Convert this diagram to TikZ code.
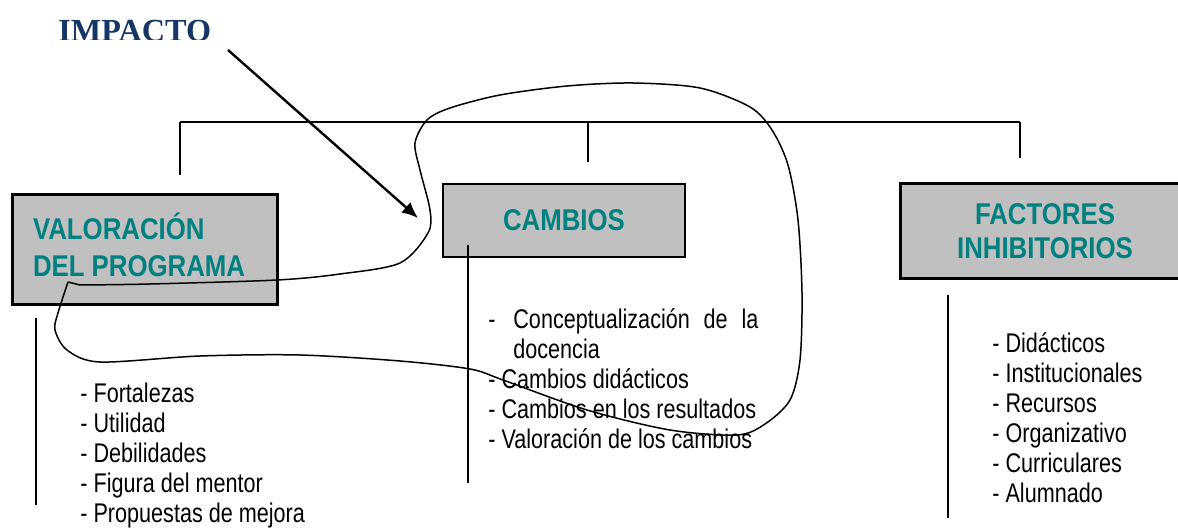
\documentclass[tikz,border=0pt]{standalone}
\usepackage{fontspec}
\setmainfont{Liberation Sans}
\newfontfamily\listfont{Liberation Sans}[FakeStretch=0.8]
\newfontfamily\headfont{Liberation Sans}[FakeStretch=0.86]
\newfontfamily\titlefont{Liberation Serif}
\usetikzlibrary{arrows.meta,positioning}
\definecolor{tealhead}{RGB}{0,128,128}
\definecolor{navytitle}{RGB}{22,54,104}
\definecolor{boxgray}{RGB}{192,192,192}
\tikzset{headbox/.style= {draw, fill=boxgray, line width=1.5pt, inner sep=0pt, text=tealhead, font=\headfont\bfseries\fontsize{15}{18.5}\selectfont}}
\tikzset{itemlist/.style= {inner sep=0pt, align=left, anchor=north west, font=\listfont\fontsize{13.5}{15}\selectfont}}
\tikzset{tree/.style= {line width=0.75pt}}

\begin{document}
\begin{tikzpicture}[x=0.5pt,y=-0.5pt]
        \useasboundingbox(0,0)rectangle(1178,529);

        % title, cut off at the bottom as in the scan
        \begin{scope}
        \clip(0,0)rectangle(600,40);
        \node[anchor=base west,inner sep=0pt,text=navytitle,font=\titlefont\bfseries\fontsize{16.1}{18}\selectfont](impacto)at(58,42){IMPACTO};
        \end{scope}

        % the three boxes
        \node[headbox,minimum width=132.5pt,minimum height=55pt](valoracion)at(144.5,250){\makebox[111.5pt][l]{\raisebox{4pt}{\begin{tabular}{@{}l@{}}VALORACIÓN\\DEL PROGRAMA\end{tabular}}}};
        \node[headbox,line width=1pt,minimum width=121pt,minimum height=36.5pt](cambios)at(564,220.5){CAMBIOS};
        \node[headbox,minimum width=145pt,minimum height=47.5pt,align=center,font=\headfont\bfseries\fontsize{15}{17}\selectfont](factores)at(1045,231.5){FACTORES\\INHIBITORIOS};

        % tree above the boxes
        \coordinate(treeL)at(180,122);
        \coordinate(treeM)at(588,122);
        \coordinate(treeR)at(1020,122);
        \coordinate(tickL)at(180,175);
        \coordinate(tickM)at(588,162);
        \coordinate(tickR)at(1020,158);
        \draw[tree](treeL)--(treeR);
        \draw[tree](treeL)--(tickL);
        \draw[tree](treeM)--(tickM);
        \draw[tree](treeR)--(tickR);

        % arrow from the title
        \coordinate(arrowstart)at(228,50);
        \coordinate(arrowtip)at(418,218);
        \draw[line width=1.2pt,-{Latex[length=8pt,width=7pt]}](arrowstart)--(arrowtip);

        % lines beside the lists
        \coordinate(sideLa)at(36,318);
        \coordinate(sideLb)at(36,505);
        \coordinate(sideMa)at(468,245);
        \coordinate(sideMb)at(468,483);
        \coordinate(sideRa)at(948,295);
        \coordinate(sideRb)at(948,518);
        \draw[tree](sideLa)--(sideLb);
        \draw[tree](sideMa)--(sideMb);
        \draw[tree](sideRa)--(sideRb);

        % lists
        \node[itemlist](valoracionlist)at(80,381){\strut- Fortalezas\\- Utilidad\\- Debilidades\\- Figura del mentor\\- Propuestas de mejora};
        \node[itemlist](cambioslist)at(488,307){\strut\makebox[12.5pt][l]{-}\makebox[122.5pt][s]{Conceptualización de la}\\\hspace*{12.5pt}docencia\\- Cambios didácticos\\- Cambios en los resultados\\- Valoración de los cambios};
        \node[itemlist](factoreslist)at(992,331){\strut- Didácticos\\- Institucionales\\- Recursos\\- Organizativo\\- Curriculares\\- Alumnado};

        % hand drawn loop
        \draw[tree]plot[smooth]coordinates{(68,282)(58,313)(55,330)(67,350)(100,362)(200,356)(300,355)(400,361)(470,369)(503,380)(587,410)(670,430)(737,435)(765,424)(790,400)(800,360)(802,293)(798,220)(788,165)(772,130)(750,107)(700,88)(633,83)(567,86)(500,95)(450,108)(427,120)(415,143)(420,170)(430,210)(428,233)(400,263)(340,274)(277,280)(150,284)(80,285)}--(68,282);
    \end{tikzpicture}
\end{document}
